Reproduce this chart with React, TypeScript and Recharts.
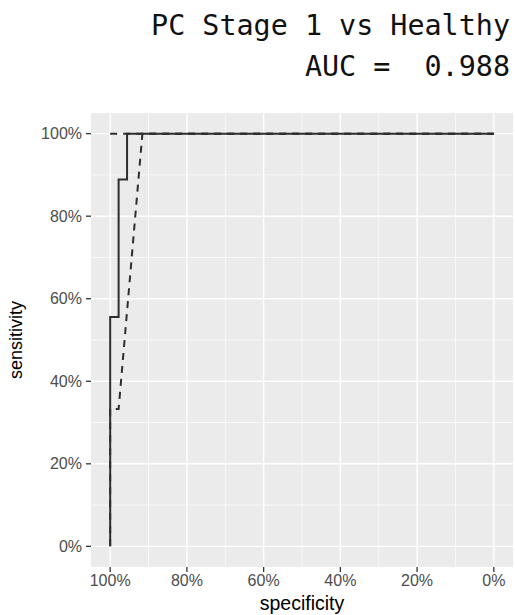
import React from "react"
import {
    LineChart,
    Line,
    XAxis,
    YAxis,
    CartesianGrid,
} from "recharts"

const titleLines = ["PC Stage 1 vs Healthy", "AUC =  0.988"]

const axisTicks = [0, 20, 40, 60, 80, 100]
const minorTicks = [10, 30, 50, 70, 90]

// ROC curve (solid)
const rocSpecificity = [100, 100, 97.8, 97.8, 95.6, 95.6, 0]
const rocSensitivity = [0, 55.6, 55.6, 88.9, 88.9, 100, 100]

// confidence bounds (dashed)
const lowerSpecificity = [100, 100, 97.8, 91.6, 0]
const lowerSensitivity = [0, 33.3, 33.3, 100, 100]
const upperSpecificity = [100, 0]
const upperSensitivity = [100, 100]

const toPoints = (xs: number[], ys: number[]) =>
    xs.map((x, i) => ({ spec: x, sens: ys[i] }))

const rocData = toPoints(rocSpecificity, rocSensitivity)
const lowerData = toPoints(lowerSpecificity, lowerSensitivity)
const upperData = toPoints(upperSpecificity, upperSensitivity)

const pct = (v: number) => `${v}%`
const sans = "Liberation Sans, Arial, sans-serif"
const tickStyle = { fill: "#4D4D4D", fontSize: 16, fontFamily: sans }
const lineColor = "#2E2E2E"

export default function App() {
    return (
        <div style={{ position: "absolute", left: 0, top: 0, width: 515, height: 615, background: "#fff" }}>
            <svg width={515} height={90} style={{ position: "absolute", left: 0, top: 0 }}>
                {titleLines.map((t, i) => (
                    <text
                        key={i}
                        x={510}
                        y={35 + i * 41}
                        textAnchor="end"
                        fontFamily="DejaVu Sans Mono, monospace"
                        fontSize={28.4}
                        fill="#111"
                        style={{ whiteSpace: "pre" }}
                    >
                        {t}
                    </text>
                ))}
            </svg>
            <LineChart
                width={515}
                height={615}
                margin={{ top: 113, right: 2, left: 0, bottom: 0 }}
                style={{ position: "absolute", left: 0, top: 0 }}
            >
                <CartesianGrid
                    fill="#EBEBEB"
                    stroke="#FFFFFF"
                    strokeWidth={0.7}
                    horizontalValues={minorTicks}
                    verticalValues={minorTicks}
                />
                <CartesianGrid
                    stroke="#FFFFFF"
                    strokeWidth={1.4}
                    horizontalValues={axisTicks}
                    verticalValues={axisTicks}
                />
                <XAxis
                    dataKey="spec"
                    type="number"
                    domain={[-5, 105]}
                    reversed
                    allowDataOverflow
                    ticks={axisTicks}
                    tickFormatter={pct}
                    axisLine={false}
                    tickLine={{ stroke: "#333", strokeWidth: 1.3 }}
                    tickSize={5}
                    tickMargin={3}
                    tick={tickStyle}
                    height={48}
                    label={{
                        value: "specificity",
                        position: "insideBottom",
                        offset: 5,
                        fill: "#000",
                        fontSize: 19.5,
                        fontFamily: sans,
                    }}
                />
                <YAxis
                    dataKey="sens"
                    type="number"
                    domain={[-5, 105]}
                    allowDataOverflow
                    ticks={axisTicks}
                    tickFormatter={pct}
                    axisLine={false}
                    tickLine={{ stroke: "#333", strokeWidth: 1.3 }}
                    tickSize={5}
                    tickMargin={4}
                    tick={tickStyle}
                    width={91}
                    label={{
                        value: "sensitivity",
                        angle: -90,
                        position: "insideLeft",
                        offset: 16,
                        style: { textAnchor: "middle" },
                        fill: "#000",
                        fontSize: 18,
                        fontFamily: sans,
                    }}
                />
                <Line
                    data={upperData}
                    dataKey="sens"
                    type="linear"
                    stroke={lineColor}
                    strokeWidth={2}
                    strokeDasharray="7 6"
                    dot={false}
                    activeDot={false}
                    isAnimationActive={false}
                />
                <Line
                    data={lowerData}
                    dataKey="sens"
                    type="linear"
                    stroke={lineColor}
                    strokeWidth={2}
                    strokeDasharray="7 6"
                    dot={false}
                    activeDot={false}
                    isAnimationActive={false}
                />
                <Line
                    data={rocData}
                    dataKey="sens"
                    type="linear"
                    stroke={lineColor}
                    strokeWidth={2}
                    dot={false}
                    activeDot={false}
                    isAnimationActive={false}
                />
            </LineChart>
        </div>
    )
}
